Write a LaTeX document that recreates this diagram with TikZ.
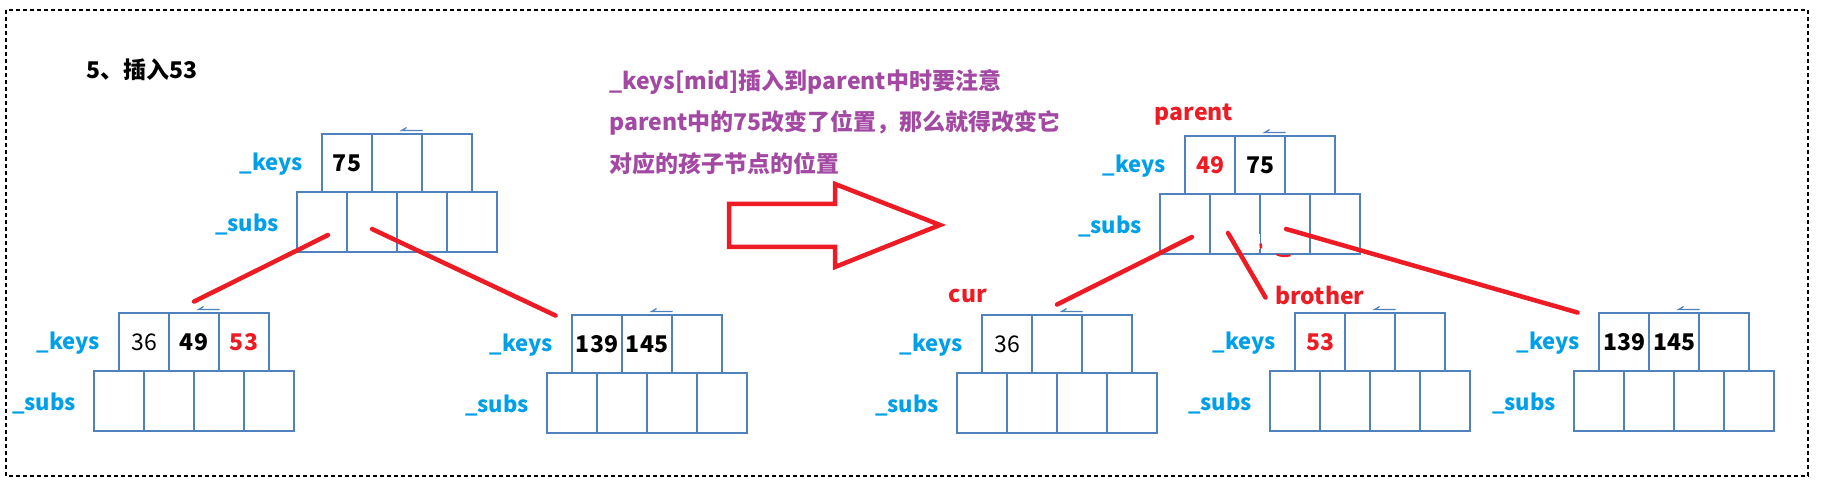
\documentclass[tikz,border=0pt]{standalone}
\usepackage{fontspec}
\setmainfont{Noto Sans CJK SC}
\usetikzlibrary{calc}
\definecolor{boxblue}{RGB}{79,129,189}
\definecolor{lblue}{RGB}{0,160,233}
\definecolor{rred}{RGB}{237,28,36}
\definecolor{ppurple}{RGB}{163,73,164}
\newcommand\fsz{\fontsize{23}{28}\selectfont}
\newcommand\lsz{\fontsize{22}{27}\selectfont}
\tikzset{
  cell/.style={draw=boxblue, line width=2.9pt, inner sep=0pt, minimum width=50pt, font=\fsz\bfseries},
  kcell/.style={cell, minimum height=58pt},
  scell/.style={cell, minimum height=60pt},
  lbl/.style={text=lblue, font=\lsz\bfseries, inner sep=0pt, anchor=east},
  redtag/.style={text=rred, font=\fsz\bfseries, inner sep=0pt},
  note/.style={text=ppurple, font=\fsz\bfseries, inner sep=0pt, anchor=west},
  link/.style={draw=rred, line width=4.5pt, line cap=round},
  tick/.style={draw=boxblue, line width=1.2pt},
}
\newcommand\btnode[6]{%
  \node[kcell] (#1k1) at (#2+25,#3+29) {#4};
  \node[kcell] (#1k2) at (#2+75,#3+29) {#5};
  \node[kcell] (#1k3) at (#2+125,#3+29) {#6};
  \node[scell] (#1s1) at (#2,#3+88) {};
  \node[scell] (#1s2) at (#2+50,#3+88) {};
  \node[scell] (#1s3) at (#2+100,#3+88) {};
  \node[scell] (#1s4) at (#2+150,#3+88) {};
  \node[lbl] (#1kl) at (#2-19,#3+30) {\_keys};
  \node[lbl] (#1sl) at (#2-43,#3+91) {\_subs};
  \draw[tick] ($(#1k3.north west)+(2,-2)$) -- ($(#1k3.north west)+(-19,-2)$) -- ++(5,-3);
}
\begin{document}
\begin{tikzpicture}[x=1pt,y=-1pt]
\useasboundingbox[fill=white] (0,0) rectangle (1825,486);
\draw[black, line width=1.1pt, dash pattern=on 4pt off 3pt] (6,10) rectangle (1808,476);
\node[anchor=west, inner sep=0pt, font=\fsz\bfseries] (title) at (86,70) {5、插入53};
\node[note] (note1) at (609,82) {\_keys[mid]插入到parent中时要注意};
\node[note] (note2) at (609,123) {parent中的75改变了位置，那么就得改变它};
\node[note] (note3) at (609,164) {对应的孩子节点的位置};
\draw[rred, line width=4.5pt, line join=miter] (729,204) -- (835,204) -- (835,184) -- (940,225) -- (835,267) -- (835,247) -- (729,247) -- cycle;
\btnode{T}{322}{134}{75}{}{}
\btnode{L}{119}{313}{\mdseries 36}{49}{\textcolor{rred}{53}}
\btnode{R}{572}{315}{139}{145}{}
\btnode{P}{1185}{136}{\textcolor{rred}{49}}{75}{}
\btnode{C}{982}{315}{\mdseries 36}{}{}
\btnode{B}{1295}{313}{\textcolor{rred}{53}}{}{}
\btnode{Q}{1599}{313}{139}{145}{}
\node[redtag] (parentlbl) at (1194,115) {parent};
\node[redtag] (curlbl) at (968,296) {cur};
\node[redtag] (brolbl) at (1320,295) {brother};
\draw[white, line width=3.3pt] ($(Ps3.south west)+(0,-21)$) -- ($(Ps3.south west)+(0,-6)$);
\draw[rred, line width=2.5pt] ($(Ps3.south west)+(2,-12)$) -- ($(Ps3.south west)+(2.5,-7)$);
\draw[rred, line width=2pt] ($(Ps3.south west)+(18,-1)$) .. controls ($(Ps3.south west)+(24,1)$) .. ($(Ps3.south west)+(32,0)$);
\draw[link] ($(Ts1.center)+(6,13)$) -- ($(Lk2.north)+(0,-10)$);
\draw[link] ($(Ts2.center)+(0,7)$) -- ($(Rk1.north west)+(-15,2)$);
\draw[link] ($(Ps1.center)+(7,13)$) -- ($(Ck2.north)+(0,-9)$);
\draw[link] ($(Ps2.center)+(-7,9)$) -- ($(Bk1.north west)+(-28,-14)$);
\draw[link] ($(Ps3.center)+(1,5)$) -- ($(Qk1.north west)+(-20,1)$);
\end{tikzpicture}
\end{document}
